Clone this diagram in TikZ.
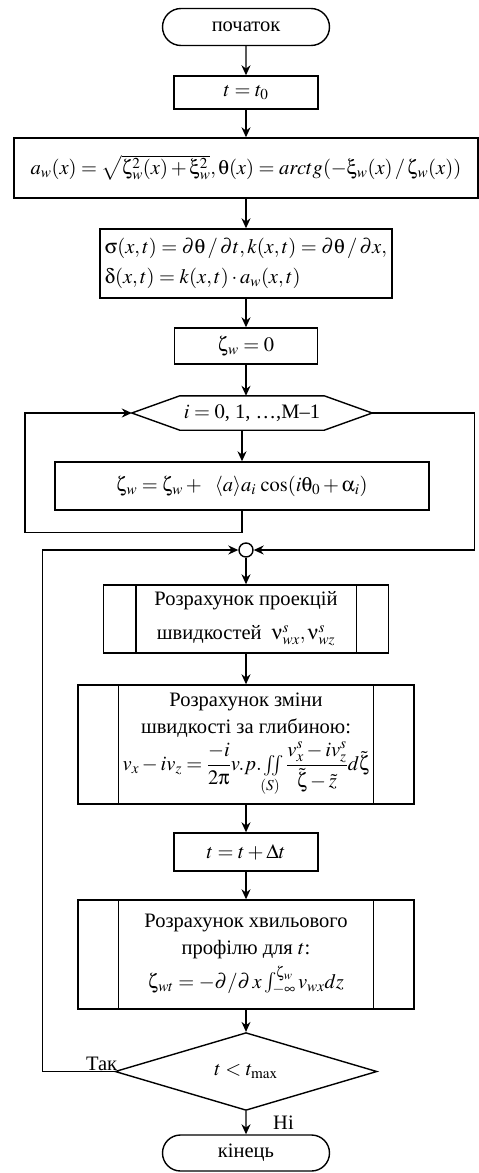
\documentclass[tikz,border=0pt]{standalone}
\usepackage{amsmath}
\usepackage{mathptmx}
\usepackage[Symbol]{upgreek}
\usepackage[no-math]{fontspec}
\setmainfont{Liberation Serif}
\usepackage{tikz}
\usetikzlibrary{
	calc,
	arrows.meta,
	shapes,
	positioning
	}
\tikzstyle{bloc-std}=[draw,rectangle,line width=1.4pt,inner sep=0pt,font=\fontsize{20.5}{24}\selectfont,align=center]
\tikzstyle{bloc-term}=[bloc-std,rounded rectangle]
\tikzstyle{bloc-test}=[bloc-std,diamond]
\tikzstyle{trait}=[line width=1.4pt]
\tikzstyle{fleche}=[trait,-{Stealth[length=10pt,width=9pt]}]
\tikzstyle{etiquette}=[font=\fontsize{20.5}{24}\selectfont,inner sep=1pt]

\begin{document}
\begin{tikzpicture}[x=1pt,y=-1pt]
\useasboundingbox (0,0) rectangle (479,1173);

\node[bloc-term,minimum width=167pt,minimum height=37pt] (debut) at (246,27) {початок};
\node[bloc-std,minimum width=144pt,minimum height=33pt] (init) at (246,92.5) {$t=t_0$};
\node[bloc-std,minimum width=464pt,minimum height=60pt] (ampl) at (246,168)
	{$a_w(x)=\sqrt{\upzeta_w^2(x)+\upxi_w^2},\uptheta(x)=arctg(-\upxi_w(x)\,/\,\upzeta_w(x))$};
\node[bloc-std,minimum width=292pt,minimum height=69pt,align=left] (freq) at (246,263.5)
	{$\upsigma(x,t)=\partial\uptheta\,/\,\partial t,k(x,t)=\partial\uptheta\,/\,\partial x,$\\[6pt]
	 $\updelta(x,t)=k(x,t)\cdot a_w(x,t)$};
\node[bloc-std,minimum width=143pt,minimum height=36pt] (zeta) at (246,346) {$\upzeta_w=0$};
\node[minimum width=240pt,minimum height=34pt,inner sep=0pt,font=\fontsize{20.5}{24}\selectfont] (boucle) at (252,413)
	{$i=0$, 1, \ldots,M--1};
\node[bloc-std,minimum width=374pt,minimum height=48pt] (corps) at (242,486)
	{$\upzeta_w=\upzeta_w+\ \ \langle a\rangle a_i\,\cos(i\uptheta_0+\upalpha_i)$};
\node[draw,circle,line width=1.4pt,minimum size=14pt,inner sep=0pt] (jonction) at (246,550) {};
\node[bloc-std,minimum width=285pt,minimum height=68pt] (sp1) at (246,619)
	{Розрахунок проекцій\\[10pt]швидкостей\ \ $\upnu^s_{wx},\upnu^s_{wz}$};
\node[bloc-std,minimum width=336pt,minimum height=119pt] (sp2) at (246,744.5)
	{Розрахунок зміни\\[3pt]швидкості за глибиною:\\[4pt]
	 $v_x-iv_z=\dfrac{-i}{2\uppi}v.p.\iint\limits_{(S)}\dfrac{v^s_x-iv^s_z}{\tilde\upzeta-\tilde z}d\tilde\upzeta$};
\node[bloc-std,minimum width=144pt,minimum height=38pt] (pas) at (246,852) {$t=t+\Delta t$};
\node[bloc-std,minimum width=336pt,minimum height=109pt] (sp3) at (246,954.5)
	{Розрахунок хвильового\\[3pt]профілю для $t$:\\[6pt]
	 $\upzeta_{wt}=-\partial/\partial\,x\int_{-\infty}^{\upzeta_w}v_{wx}dz$};
\node[bloc-test,minimum width=262pt,minimum height=67pt] (test) at (246,1071.5) {$t<t_{\mathrm{max}}$};
\node[bloc-term,minimum width=167pt,minimum height=36pt] (fin) at (246,1153) {кінець};

% hexagone du cycle
\draw[trait] (boucle.west) -- ([xshift=48pt]boucle.north west) -- ([xshift=-48pt]boucle.north east)
	-- (boucle.east) -- ([xshift=-48pt]boucle.south east) -- ([xshift=48pt]boucle.south west) -- cycle;

% sous-programmes
\foreach \n/\d in {sp1/33,sp2/41,sp3/41}{
	\draw[trait] ([xshift=\d pt]\n.north west) -- ([xshift=\d pt]\n.south west);
	\draw[trait] ([xshift=-\d pt]\n.north east) -- ([xshift=-\d pt]\n.south east);
}

\draw[fleche] (debut) -- (init);
\draw[fleche] (init) -- (ampl);
\draw[fleche] (ampl) -- (freq);
\draw[fleche] (freq) -- (zeta);
\draw[fleche] (zeta.south) -- (zeta.south |- boucle.north);
\draw[fleche] (boucle.south -| corps.north) -- (corps.north);
\draw[fleche] (corps.south) -- ++(0,22) -- ++(-217,0) |- (boucle.west);
\draw[fleche] (boucle.east) -- ++(102,0) |- (jonction.east);
\draw[fleche] (test.west) -- ++(-72,0) |- (jonction.west);
\draw[fleche] (jonction) -- (sp1);
\draw[fleche] (sp1) -- (sp2);
\draw[fleche] (sp2) -- (pas);
\draw[fleche] (pas) -- (sp3);
\draw[fleche] (sp3) -- (test);
\draw[fleche] (test) -- (fin);

\node[etiquette,anchor=south east] at ([xshift=4pt]test.west) {Так};
\node[etiquette,right=26pt] at ($(test.south)!0.5!(fin.north)$) {Ні};
\end{tikzpicture}
\end{document}
